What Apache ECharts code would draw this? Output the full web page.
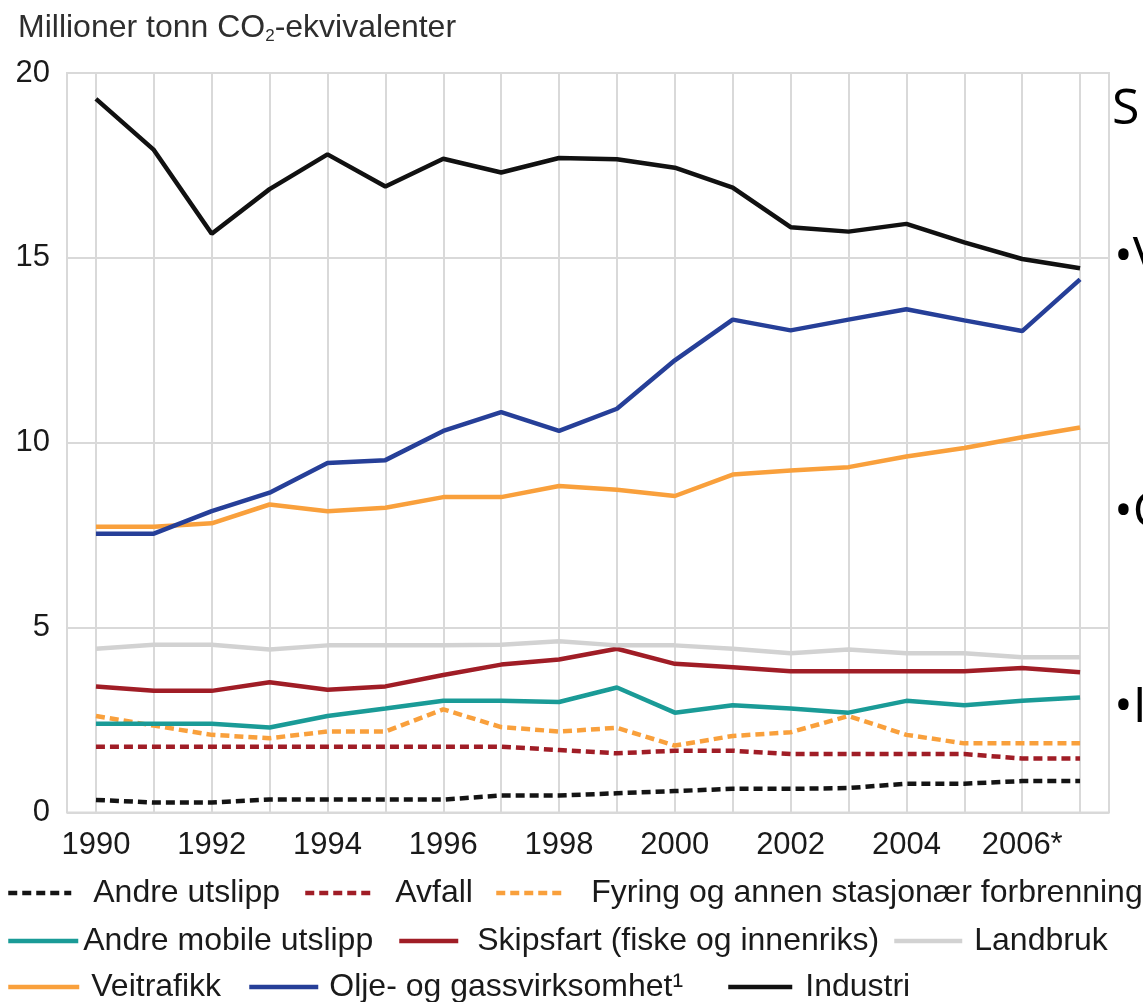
<!DOCTYPE html>
<html>
<head>
<meta charset="utf-8">
<script src="https://cdn.jsdelivr.net/npm/echarts@6/dist/echarts.min.js"></script>
<style>
html,body{margin:0;padding:0;background:#fff;}
#chart{width:1143px;height:1002px;}
</style>
</head>
<body>
<div id="chart"></div>
<script>
// ---- data ----
const years = [1990,1991,1992,1993,1994,1995,1996,1997,1998,1999,2000,2001,2002,2003,2004,2005,2006,2007];
const xTickLabels = {1990:'1990',1992:'1992',1994:'1994',1996:'1996',1998:'1998',2000:'2000',2002:'2002',2004:'2004',2006:'2006*'};
const yTicks = [0,5,10,15,20];

const andreUtslipp   = [0.34,0.27,0.27,0.35,0.35,0.35,0.35,0.46,0.46,0.52,0.58,0.64,0.64,0.66,0.78,0.78,0.85,0.85];
const avfall         = [1.78,1.78,1.78,1.78,1.78,1.78,1.78,1.78,1.69,1.60,1.67,1.67,1.58,1.58,1.58,1.58,1.46,1.46];
const fyring         = [2.61,2.35,2.10,2.01,2.19,2.19,2.79,2.31,2.19,2.29,1.81,2.07,2.17,2.61,2.10,1.87,1.87,1.87];
const andreMobile    = [2.40,2.40,2.40,2.30,2.61,2.81,3.02,3.02,2.99,3.38,2.70,2.90,2.81,2.70,3.02,2.90,3.02,3.11];
const skipsfart      = [3.41,3.29,3.29,3.52,3.32,3.41,3.72,4.00,4.14,4.43,4.02,3.93,3.82,3.82,3.82,3.82,3.91,3.79];
const landbruk       = [4.43,4.54,4.54,4.41,4.52,4.52,4.52,4.54,4.63,4.52,4.52,4.43,4.31,4.41,4.31,4.31,4.20,4.20];
const veitrafikk     = [7.73,7.73,7.82,8.33,8.15,8.24,8.53,8.53,8.83,8.73,8.56,9.14,9.25,9.34,9.63,9.86,10.15,10.41];
const oljeGass       = [7.54,7.54,8.15,8.65,9.45,9.53,10.32,10.83,10.32,10.92,12.23,13.33,13.04,13.33,13.61,13.31,13.02,14.42];
const industri       = [19.30,17.92,15.65,16.86,17.80,16.93,17.68,17.31,17.70,17.67,17.44,16.90,15.83,15.71,15.92,15.42,14.97,14.72];

const seriesNames = ['Andre utslipp','Avfall','Fyring og annen stasjonær forbrenning','Andre mobile utslipp','Skipsfart (fiske og innenriks)','Landbruk','Veitrafikk','Olje- og gassvirksomhet\u00B9','Industri'];
const seriesValues = [andreUtslipp, avfall, fyring, andreMobile, skipsfart, landbruk, veitrafikk, oljeGass, industri];
const seriesColors = ['#141414','#a01d26','#f9a03c','#1a9b97','#a01d26','#d2d2d2','#f9a03c','#263f98','#111111'];
const seriesDashed = [true,true,true,false,false,false,false,false,false];

const FONT = '"Liberation Sans", Arial, sans-serif';

const series = seriesNames.map((name, i) => ({
  name: name,
  type: 'line',
  symbol: 'none',
  data: years.map((y, k) => [y, seriesValues[i][k]]),
  lineStyle: { color: seriesColors[i], width: 4.5, type: seriesDashed[i] ? [9,5] : 'solid' },
  itemStyle: { color: seriesColors[i] },
  emphasis: { disabled: true },
  z: 2 + i
}));

// legend placement: [left, top, itemWidth, text padding-left]
const legendPlace = [
  [6, 877, 63, 17],
  [303, 877, 65, 20],
  [494, 877, 70, 20],
  [6, 925, 70, 0],
  [397, 925, 59, 14],
  [892, 925, 68, 7],
  [6, 971, 71, 7],
  [247, 971, 69, 6],
  [726, 971, 64, 8]
];
const legends = seriesNames.map((name, i) => ({
  data: [name],
  left: legendPlace[i][0],
  top: legendPlace[i][1],
  itemWidth: legendPlace[i][2],
  itemHeight: 14,
  padding: 0,
  selectedMode: false,
  itemStyle: { opacity: 0 },
  lineStyle: { width: 4.5, color: seriesColors[i], type: seriesDashed[i] ? [9,5] : 'solid' },
  textStyle: { fontFamily: FONT, fontSize: 32, color: '#1a1a1a', padding: [0,0,0,legendPlace[i][3]] }
}));

const chart = echarts.init(document.getElementById('chart'), null, { renderer: 'canvas' });
chart.setOption({
  animation: false,
  backgroundColor: '#ffffff',
  title: {
    text: '{a|Millioner tonn CO}{s|2}{a|-ekvivalenter}',
    left: 13, top: 7,
    textStyle: {
      fontWeight: 'normal',
      rich: {
        a: { fontFamily: FONT, fontSize: 32, fontWeight: 'normal', color: '#2e2e2e' },
        s: { fontFamily: FONT, fontSize: 17, fontWeight: 'normal', color: '#2e2e2e', verticalAlign: 'bottom', padding: [16,0,0,0] }
      }
    }
  },
  legend: legends,
  grid: {
    left: 67, right: 34, top: 73, bottom: 189.5,
    show: true, borderColor: '#d9d9d9', borderWidth: 2, containLabel: false
  },
  xAxis: {
    type: 'value',
    min: 1989.5, max: 2007.5, interval: 0.5,
    axisLine: { show: false },
    axisTick: { show: false },
    axisLabel: {
      fontFamily: FONT, fontSize: 31, color: '#1a1a1a', margin: 17,
      showMinLabel: true, showMaxLabel: true,
      formatter: v => xTickLabels[v] !== undefined ? xTickLabels[v] : ''
    },
    splitLine: { show: true, lineStyle: { color: ['rgba(0,0,0,0)', '#d9d9d9'], width: 2 } }
  },
  yAxis: {
    type: 'value',
    min: yTicks[0], max: yTicks[yTicks.length - 1], interval: 5,
    axisLine: { show: false },
    axisTick: { show: false },
    axisLabel: { fontFamily: FONT, fontSize: 31, color: '#1a1a1a', margin: 17 },
    splitLine: { show: true, lineStyle: { color: '#d9d9d9', width: 2 } }
  },
  series: series,
  graphic: [
    { type: 'text', left: 1112, top: 85, style: { text: 'S', fontFamily: '"Open Sans", sans-serif', fontSize: 50, fill: '#000' } },
    { type: 'text', left: 1114, top: 233, style: { text: '\u2022V', fontFamily: '"Open Sans", sans-serif', fontSize: 50, fill: '#000' } },
    { type: 'text', left: 1114, top: 488, style: { text: '\u2022C', fontFamily: '"Open Sans", sans-serif', fontSize: 50, fill: '#000' } },
    { type: 'text', left: 1114, top: 683, style: { text: '\u2022I', fontFamily: '"Open Sans", sans-serif', fontSize: 50, fill: '#000' } }
  ]
});
</script>
</body>
</html>
